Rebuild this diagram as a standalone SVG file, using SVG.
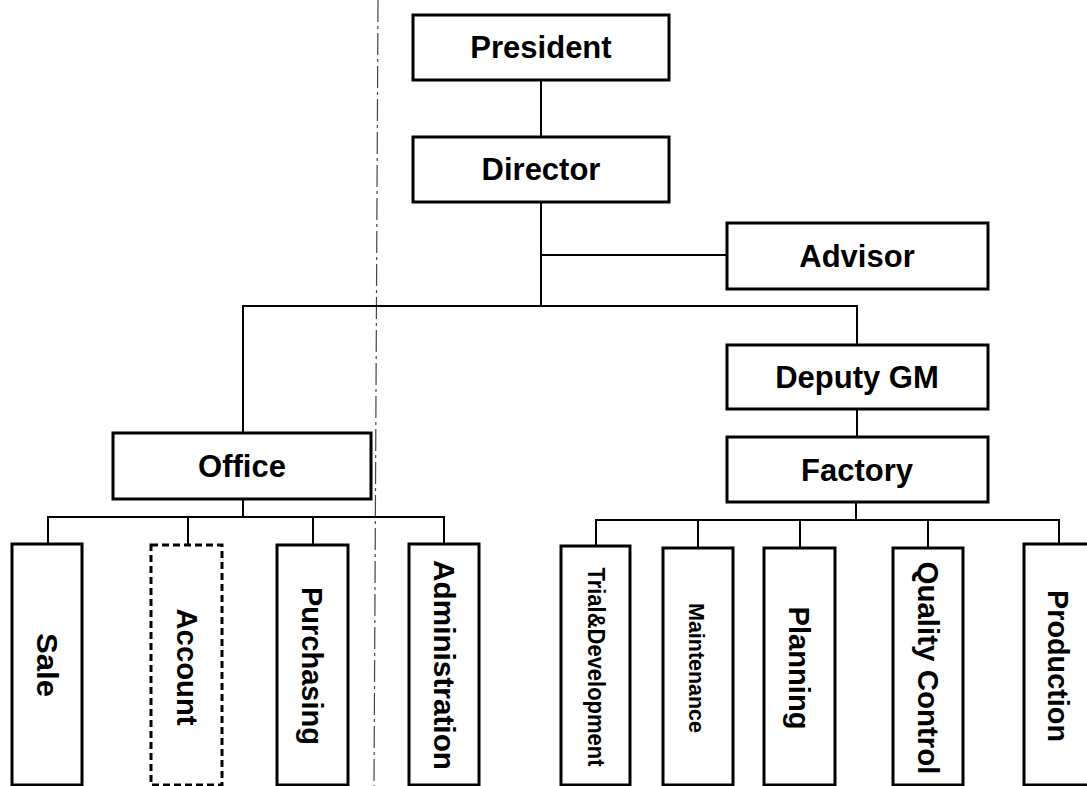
<svg xmlns="http://www.w3.org/2000/svg" width="1087" height="786" viewBox="0 0 1087 786">
  <style>
    .box { fill: #fff; stroke: #000; stroke-width: 3; }
    .dashed { stroke-dasharray: 7 4; }
    .wire { fill: none; stroke: #000; stroke-width: 2; }
    .divider { fill: none; stroke: #444; stroke-width: 1.2; stroke-dasharray: 22 4 3 4; }
    .t { font-family: "Liberation Sans", Arial, sans-serif; font-weight: bold; fill: #000; text-anchor: middle; }
    .h { font-size: 31px; }
    .v { font-size: 30px; }
  </style>
  <rect width="1087" height="786" fill="#fff"/>

  <!-- dash-dot divider between office and factory side -->
  <line class="divider" x1="378" y1="0" x2="374" y2="786"/>

  <!-- connectors -->
  <g id="connectors">
    <path class="wire" d="M541 80 V137"/>
    <path class="wire" d="M541 202 V306"/>
    <path class="wire" d="M541 255 H727"/>
    <path class="wire" d="M243 433 V306 H857 V345"/>
    <path class="wire" d="M857 409 V437"/>
    <!-- office branches -->
    <path class="wire" d="M243 499 V517"/>
    <path class="wire" d="M48 544 V517 H444 V544"/>
    <path class="wire" d="M188 517 V545"/>
    <path class="wire" d="M313 517 V545"/>
    <!-- factory branches -->
    <path class="wire" d="M856 502 V520"/>
    <path class="wire" d="M596 546 V520 H1059 V544"/>
    <path class="wire" d="M698 520 V548"/>
    <path class="wire" d="M800 520 V548"/>
    <path class="wire" d="M928 520 V548"/>
  </g>

  <g id="president">
    <rect class="box" x="413" y="15" width="256" height="65"/>
    <text class="t h" x="541" y="58">President</text>
  </g>
  <g id="director">
    <rect class="box" x="413" y="137" width="256" height="65"/>
    <text class="t h" x="541" y="180">Director</text>
  </g>
  <g id="advisor">
    <rect class="box" x="727" y="223" width="261" height="66"/>
    <text class="t h" x="857" y="267">Advisor</text>
  </g>
  <g id="deputy-gm">
    <rect class="box" x="727" y="345" width="261" height="64"/>
    <text class="t h" x="857" y="388">Deputy GM</text>
  </g>
  <g id="factory">
    <rect class="box" x="727" y="437" width="261" height="65"/>
    <text class="t h" x="857" y="481">Factory</text>
  </g>
  <g id="office">
    <rect class="box" x="113" y="433" width="258" height="66"/>
    <text class="t h" x="242" y="477">Office</text>
  </g>

  <!-- office departments -->
  <g id="sale">
    <rect class="box" x="12" y="544" width="70" height="241"/>
    <text class="t v" transform="translate(47,665) rotate(90)" dy="0.35em" textLength="64" lengthAdjust="spacingAndGlyphs">Sale</text>
  </g>
  <g id="account">
    <rect class="box dashed" x="151" y="545" width="71" height="240"/>
    <text class="t v" transform="translate(187,667) rotate(90)" dy="0.35em" textLength="117" lengthAdjust="spacingAndGlyphs">Account</text>
  </g>
  <g id="purchasing">
    <rect class="box" x="277" y="545" width="71" height="240"/>
    <text class="t v" transform="translate(312,666) rotate(90)" dy="0.35em" textLength="158" lengthAdjust="spacingAndGlyphs">Purchasing</text>
  </g>
  <g id="administration">
    <rect class="box" x="409" y="544" width="70" height="241"/>
    <text class="t v" transform="translate(444,665) rotate(90)" dy="0.35em" textLength="210" lengthAdjust="spacingAndGlyphs">Administration</text>
  </g>

  <!-- factory departments -->
  <g id="trial-development">
    <rect class="box" x="561" y="546" width="69" height="239"/>
    <text class="t" font-size="23" transform="translate(596,667) rotate(90)" dy="0.35em" textLength="199" lengthAdjust="spacingAndGlyphs">Trial&amp;Development</text>
  </g>
  <g id="maintenance">
    <rect class="box" x="663" y="548" width="70" height="237"/>
    <text class="t" font-size="22" transform="translate(697,668) rotate(90)" dy="0.35em" textLength="130" lengthAdjust="spacingAndGlyphs">Maintenance</text>
  </g>
  <g id="planning">
    <rect class="box" x="764" y="548" width="71" height="237"/>
    <text class="t v" transform="translate(799,668) rotate(90)" dy="0.35em" textLength="123" lengthAdjust="spacingAndGlyphs">Planning</text>
  </g>
  <g id="quality-control">
    <rect class="box" x="893" y="548" width="70" height="237"/>
    <text class="t v" transform="translate(928,668) rotate(90)" dy="0.35em" textLength="213" lengthAdjust="spacingAndGlyphs">Quality Control</text>
  </g>
  <g id="production">
    <rect class="box" x="1024" y="544" width="72" height="241"/>
    <text class="t v" transform="translate(1058,666) rotate(90)" dy="0.35em" textLength="152" lengthAdjust="spacingAndGlyphs">Production</text>
  </g>
</svg>
